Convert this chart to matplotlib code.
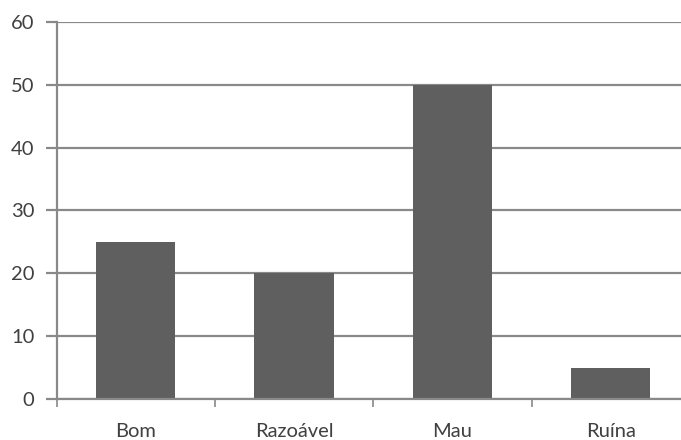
import matplotlib.pyplot as plt
import numpy as np

categorias = ['Bom', 'Razoável', 'Mau', 'Ruína']
valores = [25, 20, 50, 5]
y_ticks = [0, 10, 20, 30, 40, 50, 60]

cor_barra = '#5f5f5f'
cor_linha = '#898989'
cor_texto = '#404040'

plt.rcParams['font.family'] = ['Lato', 'DejaVu Sans']

fig = plt.figure(figsize=(6.81, 4.40), dpi=100)
ax = fig.add_axes([0.083, 0.0932, 0.930, 0.857])

x = np.arange(len(categorias))
ax.bar(x, valores, width=0.5, color=cor_barra, zorder=3)

ax.set_xlim(-0.5, len(categorias) - 0.5)
ax.set_ylim(0, 60)
ax.set_yticks(y_ticks)
ax.yaxis.grid(True, color=cor_linha, linewidth=1.6, zorder=0)

# ticks do eixo x nas fronteiras entre categorias
ax.set_xticks(np.arange(len(categorias) + 1) - 0.5)
ax.set_xticklabels([])
ax.set_xticks(x, minor=True)
ax.set_xticklabels(categorias, minor=True)
ax.tick_params(axis='x', which='major', length=6, width=1.2, color=cor_linha, direction='out')
ax.tick_params(axis='x', which='minor', length=0, pad=17, labelsize=14.5, labelcolor=cor_texto)
ax.tick_params(axis='y', length=8, width=1.6, color=cor_linha, pad=8, labelsize=14.5, labelcolor=cor_texto)

for lado in ['top', 'right']:
    ax.spines[lado].set_visible(False)
for lado in ['left', 'bottom']:
    ax.spines[lado].set_color(cor_linha)
    ax.spines[lado].set_linewidth(1.6)
ax.spines['bottom'].set_zorder(4)

fig.savefig('out.png', dpi=100)
plt.close()
